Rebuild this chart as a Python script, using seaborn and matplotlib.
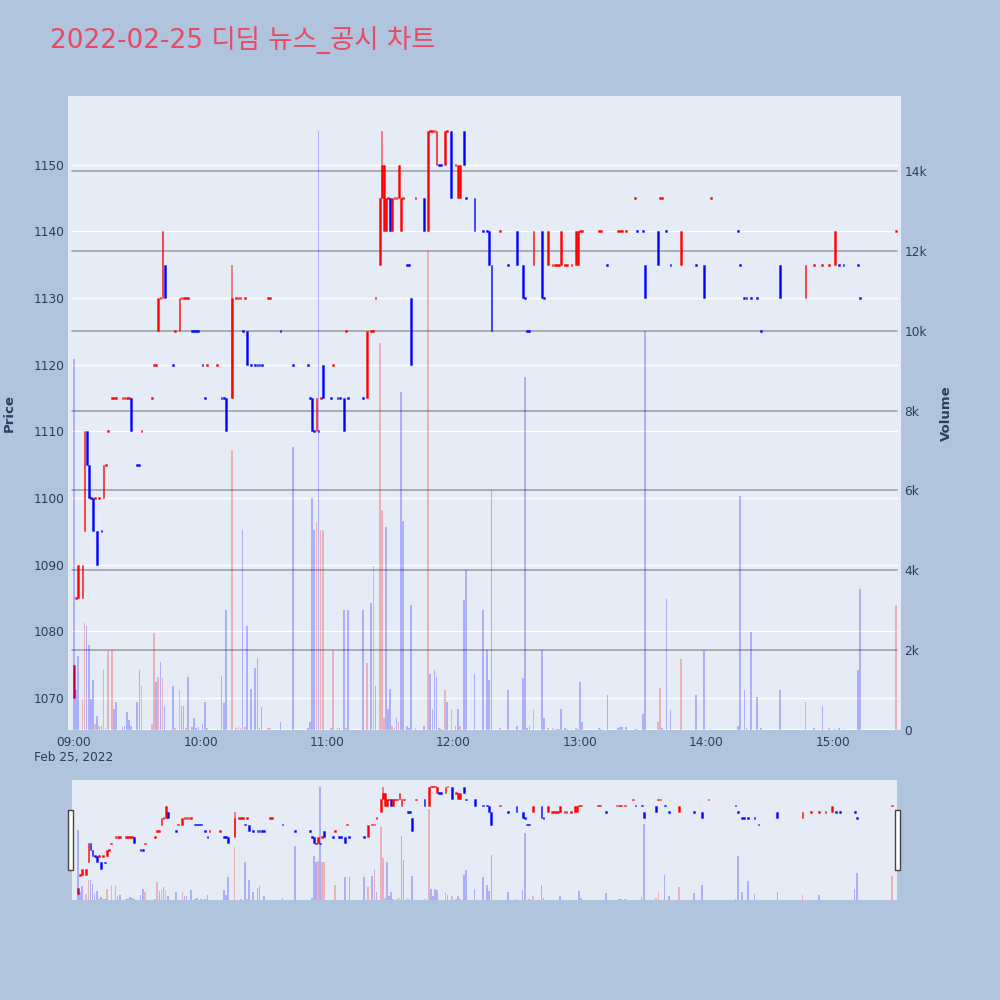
import numpy as np
import pandas as pd
import matplotlib
matplotlib.use("Agg")
import matplotlib.pyplot as plt
import matplotlib.transforms as mtransforms
from matplotlib.patches import Rectangle
import seaborn as sns

# one entry per traded minute (minutes after 09:00), ten per line
minutes = [0, 1, 2, 4, 5, 6, 7, 8, 9, 10,
           11, 12, 13, 14, 15, 16, 18, 19, 20, 23,
           24, 25, 26, 27, 30, 31, 32, 37, 38, 39,
           40, 41, 42, 43, 47, 48, 50, 51, 52, 53,
           54, 56, 57, 58, 59, 61, 62, 63, 68, 70,
           71, 72, 75, 77, 78, 79, 80, 81, 82, 84,
           86, 87, 88, 89, 92, 93, 98, 104, 111, 112,
           113, 114, 115, 116, 117, 118, 122, 123, 125, 126,
           128, 129, 130, 137, 139, 141, 142, 143, 145, 146,
           147, 148, 149, 150, 151, 152, 153, 154, 155, 156,
           158, 159, 160, 162, 166, 168, 169, 170, 171, 172,
           173, 174, 176, 177, 179, 181, 182, 183, 185, 186,
           190, 194, 196, 197, 198, 202, 206, 210, 213, 214,
           215, 216, 218, 222, 223, 225, 227, 228, 229, 230,
           231, 233, 234, 236, 238, 239, 240, 241, 249, 250,
           253, 258, 259, 260, 262, 266, 267, 270, 271, 277,
           278, 279, 281, 283, 288, 295, 299, 302, 315, 316,
           318, 319, 321, 324, 326, 335, 347, 351, 355, 358,
           361, 363, 365, 372, 373, 390]
opens = [1070, 1085, 1085, 1085, 1095, 1110, 1105, 1100, 1100, 1100,
         1095, 1100, 1095, 1100, 1105, 1110, 1115, 1115, 1115, 1115,
         1115, 1115, 1115, 1115, 1105, 1105, 1110, 1115, 1120, 1120,
         1125, 1130, 1130, 1135, 1120, 1125, 1125, 1130, 1130, 1130,
         1130, 1125, 1125, 1125, 1125, 1120, 1115, 1120, 1120, 1115,
         1115, 1115, 1115, 1130, 1130, 1130, 1125, 1130, 1125, 1120,
         1120, 1120, 1120, 1120, 1130, 1130, 1125, 1120, 1120, 1115,
         1115, 1110, 1110, 1110, 1115, 1120, 1115, 1120, 1115, 1115,
         1115, 1125, 1115, 1115, 1115, 1125, 1125, 1130, 1135, 1145,
         1140, 1140, 1145, 1145, 1140, 1145, 1145, 1145, 1140, 1145,
         1135, 1135, 1130, 1145, 1145, 1140, 1155, 1155, 1155, 1150,
         1150, 1150, 1150, 1155, 1155, 1150, 1145, 1145, 1155, 1145,
         1145, 1140, 1140, 1140, 1135, 1140, 1135, 1140, 1135, 1130,
         1125, 1125, 1135, 1140, 1130, 1135, 1135, 1135, 1135, 1135,
         1135, 1135, 1135, 1135, 1135, 1135, 1140, 1140, 1140, 1140,
         1135, 1140, 1140, 1140, 1140, 1145, 1140, 1140, 1135, 1140,
         1145, 1145, 1140, 1135, 1135, 1135, 1135, 1145, 1140, 1135,
         1130, 1130, 1130, 1130, 1125, 1135, 1130, 1135, 1135, 1135,
         1135, 1135, 1135, 1135, 1130, 1140]
closes = [1075, 1085, 1090, 1090, 1110, 1105, 1100, 1100, 1095, 1100,
          1090, 1100, 1095, 1105, 1105, 1110, 1115, 1115, 1115, 1115,
          1115, 1115, 1115, 1110, 1105, 1105, 1110, 1115, 1120, 1120,
          1130, 1130, 1140, 1130, 1120, 1125, 1130, 1130, 1130, 1130,
          1130, 1125, 1125, 1125, 1125, 1120, 1115, 1120, 1120, 1115,
          1115, 1110, 1130, 1130, 1130, 1130, 1125, 1130, 1120, 1120,
          1120, 1120, 1120, 1120, 1130, 1130, 1125, 1120, 1120, 1115,
          1110, 1110, 1115, 1110, 1115, 1115, 1115, 1120, 1115, 1115,
          1110, 1125, 1115, 1115, 1125, 1125, 1125, 1130, 1145, 1150,
          1150, 1145, 1145, 1140, 1145, 1145, 1145, 1150, 1145, 1145,
          1135, 1135, 1120, 1145, 1140, 1155, 1155, 1155, 1155, 1155,
          1150, 1150, 1155, 1155, 1145, 1150, 1150, 1150, 1150, 1145,
          1140, 1140, 1140, 1135, 1125, 1140, 1135, 1135, 1130, 1130,
          1125, 1125, 1140, 1130, 1130, 1140, 1135, 1135, 1135, 1135,
          1140, 1135, 1135, 1135, 1140, 1140, 1140, 1140, 1140, 1140,
          1135, 1140, 1140, 1140, 1140, 1145, 1140, 1140, 1130, 1135,
          1145, 1145, 1140, 1135, 1140, 1135, 1130, 1145, 1140, 1135,
          1130, 1130, 1130, 1130, 1125, 1130, 1135, 1135, 1135, 1135,
          1140, 1135, 1135, 1135, 1130, 1140]
volumes = [9300, 1000, 1850, 780, 2670, 2600, 2130, 780, 1240, 160,
           350, 100, 100, 1520, 50, 1980, 2000, 520, 700, 80,
           100, 450, 250, 100, 700, 1500, 1100, 140, 2440, 1190,
           1340, 1700, 1310, 590, 1100, 50, 1000, 590, 590, 50,
           1340, 80, 300, 50, 80, 150, 700, 50, 30, 1360,
           680, 3000, 7010, 50, 80, 50, 5000, 80, 2600, 1030,
           1550, 1800, 60, 570, 50, 50, 200, 7100, 50, 200,
           5800, 5000, 5200, 15000, 5000, 5000, 50, 1980, 50, 50,
           3000, 50, 3000, 3000, 1670, 3180, 4100, 1100, 9700, 5500,
           300, 5080, 520, 1030, 100, 50, 300, 200, 8460, 5230,
           100, 50, 3130, 50, 100, 12000, 1410, 520, 1500, 1340,
           50, 30, 1000, 700, 520, 100, 520, 100, 3250, 4000,
           1410, 3000, 2000, 1240, 6000, 50, 1000, 100, 1290, 8840,
           50, 100, 520, 2000, 300, 50, 50, 30, 30, 30,
           520, 50, 30, 30, 50, 30, 1200, 200, 50, 30,
           880, 50, 80, 80, 80, 30, 30, 400, 10000, 200,
           1050, 50, 3270, 490, 1770, 880, 1990, 30, 100, 5870,
           1000, 50, 2450, 830, 50, 1000, 700, 50, 600, 50,
           30, 50, 30, 1500, 3520, 3130]
# candle / volume colour per entry: r = red, b = blue
candle_dir = ("rrrrrbbbbr" "brbrrrrrrr" "rrrbbbrrrr" "rrrbbrrrrr" "rbbbbbbrrb"
              "bbrrrrbrbb" "bbbbrrbbbb" "bbrbrbbrbb" "brbbrrrrrr" "rrrbrrrrrr"
              "bbbrbrrrrr" "bbrrbrrrbb" "bbbbbrbbbb" "bbrbbrrrrr" "rrrrrrrrrr"
              "brrrrrbbbb" "rrbbrbbrbb" "bbbbbbrrrr" "rbbbbr")
volume_dir = ("bbbrrbbbbr" "brbrrrrbbb" "bbbbbbrrrb" "rbrbbrrbbr" "bbbbbbbrrb"
              "bbrrrrbrbb" "bbbbrrbbbb" "bbrbrrbrbb" "brbbrbrbrr" "rbbbrrbrbb"
              "bbbrbrbbbb" "bbrbrbbrbb" "bbbbbrbbbb" "bbrbbrbrbr" "bbrrrrbbbr"
              "bbbbbrrbbr" "rbbbrbbrbb" "bbbbbbrbbr" "rbbbbr")
wicks = {75: (1115, 1135), 146: (1145, 1155)}

title = "2022-02-25 디딤 뉴스_공시 차트"
hour_labels = ["09:00\nFeb 25, 2022", "10:00", "11:00", "12:00", "13:00", "14:00", "15:00"]
price_ticks = [1070, 1080, 1090, 1100, 1110, 1120, 1130, 1140, 1150]
volume_ticks = [0, 2000, 4000, 6000, 8000, 10000, 12000, 14000]
volume_labels = ["0", "2k", "4k", "6k", "8k", "10k", "12k", "14k"]

RED, BLUE = "#ff0000", "#0000ff"
BG, PAPER, INK = "#e5ecf6", "#b0c4de", "#2a3f5f"
XLIM = (-2.85, 392.3)
PLIM = (1065.2, 1160.3)
VLIM = (0, 15880)

assert len(minutes) == len(opens) == len(closes) == len(volumes) == len(candle_dir) == len(volume_dir)

df = pd.DataFrame({"minute": minutes, "open": opens, "close": closes,
                   "volume": volumes, "cdir": list(candle_dir), "vdir": list(volume_dir)})

sns.set_theme(style="white")
plt.rcParams["font.family"] = ["DejaVu Sans", "Noto Sans CJK KR"]


def draw_candles(axis, min_h):
    lo = np.minimum(df["open"], df["close"]).to_numpy(float)
    diff = np.abs(df["close"] - df["open"]).to_numpy(float)
    h = np.maximum(diff, min_h)
    bottom = lo - (h - diff) / 2
    face = [RED if d == "r" else BLUE for d in df["cdir"]]
    edge = [(1, 0, 0, 0.45) if d == "r" else (0, 0, 1, 0.45) for d in df["cdir"]]
    for m, (wlo, whi) in wicks.items():
        d = df.loc[df["minute"] == m, "cdir"].iloc[0]
        axis.vlines(m, wlo, whi, color=RED if d == "r" else BLUE, alpha=0.5, lw=1.3, zorder=2.9)
    axis.bar(df["minute"], h, bottom=bottom, width=0.85, color=face, edgecolor=edge,
             linewidth=0.6, zorder=3)


def draw_volume(axis):
    sns.histplot(data=df, x="minute", weights="volume", hue="vdir", hue_order=["r", "b"],
                 palette={"r": RED, "b": BLUE}, discrete=True, shrink=0.8, alpha=0.25,
                 linewidth=0, multiple="layer", legend=False, ax=axis)
    axis.set_xlabel("")
    axis.set_ylabel("")


fig = plt.figure(figsize=(10, 10), dpi=100, facecolor=PAPER)

# main chart
ax = fig.add_axes([0.068, 0.27, 0.833, 0.634])
ax.set_facecolor(BG)
ax_vol = ax.twinx()
draw_volume(ax_vol)
draw_candles(ax, 0.3)

ax.set_xlim(*XLIM)
ax.set_ylim(*PLIM)
ax_vol.set_ylim(*VLIM)

g0, g1 = 4 / 833, 829 / 833
for p in price_ticks:
    ax.axhline(p, xmin=g0, xmax=g1, color="white", lw=1.0, zorder=0.5)
blend = mtransforms.blended_transform_factory(ax.transAxes, ax_vol.transData)
for v in volume_ticks[1:]:
    ax.plot([g0, g1], [v, v], transform=blend, color="#9c9c9c", lw=1.1, zorder=0.6)
ax.plot([g0, g1], [0, 0], transform=blend, color="white", lw=2.0, zorder=0.6)

ax.set_yticks(price_ticks)
ax.set_yticklabels([str(p) for p in price_ticks])
ax_vol.set_yticks(volume_ticks)
ax_vol.set_yticklabels(volume_labels)
ax.set_xticks([0, 60, 120, 180, 240, 300, 360])
ax.set_xticklabels(hour_labels)
ax.set_xlim(*XLIM)
ax.tick_params(axis="both", length=0, labelsize=8.7, labelcolor=INK)
ax.tick_params(axis="y", pad=2.5)
ax.tick_params(axis="x", pad=4)
ax_vol.tick_params(axis="y", length=0, labelsize=8.7, labelcolor=INK, pad=2.5)
ax.grid(False)
ax_vol.grid(False)
for a in (ax, ax_vol):
    for s in a.spines.values():
        s.set_visible(False)

fig.text(0.009, 0.587, "Price", rotation=90, ha="center", va="center",
         fontsize=9.5, fontweight="bold", color=INK)
fig.text(0.946, 0.587, "Volume", rotation=90, ha="center", va="center",
         fontsize=9.5, fontweight="bold", color=INK)
fig.text(0.05, 0.96, title, fontsize=19, color="#e84a64", ha="left", va="center",
         family=["DejaVu Sans", "Noto Sans CJK KR"])

# range slider
sl = fig.add_axes([0.072, 0.10, 0.825, 0.12])
sl.set_facecolor(BG)
sl_vol = sl.twinx()
draw_volume(sl_vol)
draw_candles(sl, 1.2)
sl.set_xlim(*XLIM)
sl.set_ylim(*PLIM)
sl_vol.set_ylim(*VLIM)
for a in (sl, sl_vol):
    a.set_xticks([])
    a.set_yticks([])
    a.grid(False)
    for s in a.spines.values():
        s.set_visible(False)

for hx in (0.068, 0.895):
    fig.patches.append(Rectangle((hx, 0.13), 0.005, 0.06, transform=fig.transFigure,
                                 facecolor="white", edgecolor="#444444", lw=1.0))

fig.savefig("out.png", dpi=100, facecolor=PAPER)
